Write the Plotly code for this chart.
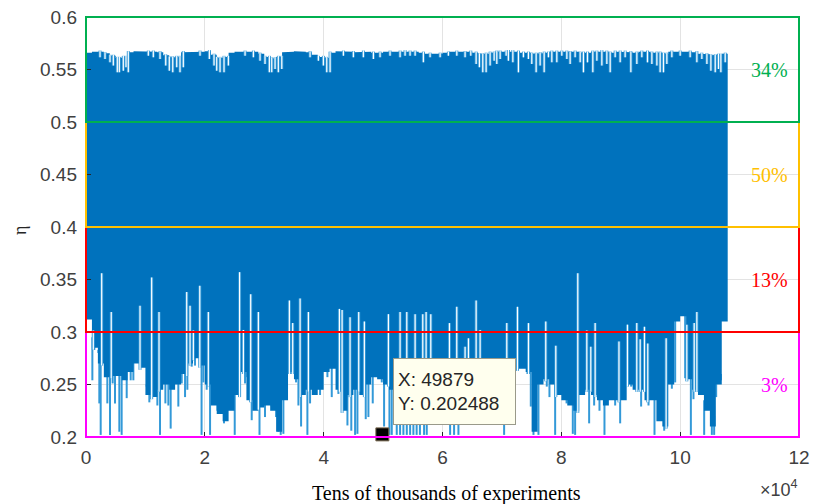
import plotly.graph_objects as go

# ---------------- data ----------------
col_width = 1000                      # experiments per column of the envelope
core_hi = [0.566, 0.567, 0.567, 0.5655, 0.563, 0.561, 0.562, 0.5665, 0.5675, 0.567,
           0.567, 0.567, 0.5665, 0.5635, 0.5615, 0.562, 0.5665, 0.567, 0.567, 0.567,
           0.5675, 0.564, 0.561, 0.562, 0.566, 0.567, 0.567, 0.5675, 0.567, 0.565,
           0.562, 0.5605, 0.562, 0.5665, 0.567, 0.5675, 0.567, 0.5665, 0.564, 0.562,
           0.561, 0.566, 0.5675, 0.567, 0.567, 0.5665, 0.567, 0.567, 0.566, 0.566,
           0.567, 0.567, 0.567, 0.5675, 0.567, 0.567, 0.566, 0.565, 0.5645, 0.565,
           0.566, 0.567, 0.567, 0.5665, 0.567, 0.566, 0.5645, 0.565, 0.566, 0.567,
           0.567, 0.5675, 0.567, 0.566, 0.566, 0.565, 0.5655, 0.566, 0.567, 0.567,
           0.567, 0.5665, 0.567, 0.566, 0.566, 0.567, 0.5675, 0.567, 0.566, 0.567,
           0.567, 0.5665, 0.566, 0.567, 0.567, 0.566, 0.566, 0.565, 0.567, 0.5675,
           0.567, 0.567, 0.5665, 0.565, 0.5645, 0.5635, 0.564, 0.565]
core_lo = [0.312, 0.285, 0.27, 0.257, 0.258, 0.258, 0.254, 0.262, 0.27, 0.266,
           0.24, 0.238, 0.245, 0.25, 0.245, 0.25, 0.26, 0.27, 0.275, 0.268,
           0.25, 0.23, 0.222, 0.215, 0.225, 0.24, 0.262, 0.235, 0.225, 0.228,
           0.23, 0.225, 0.205, 0.235, 0.262, 0.255, 0.24, 0.245, 0.24, 0.245,
           0.262, 0.265, 0.245, 0.225, 0.24, 0.245, 0.24, 0.25, 0.257, 0.255,
           0.25, 0.245, 0.25, 0.25, 0.25, 0.25, 0.25, 0.25, 0.25, 0.25,
           0.25, 0.25, 0.25, 0.25, 0.25, 0.25, 0.25, 0.25, 0.25, 0.25,
           0.25, 0.25, 0.265, 0.265, 0.262, 0.205, 0.25, 0.255, 0.25, 0.24,
           0.235, 0.23, 0.225, 0.24, 0.245, 0.24, 0.235, 0.23, 0.235, 0.235,
           0.235, 0.25, 0.245, 0.245, 0.235, 0.235, 0.215, 0.21, 0.25, 0.31,
           0.315, 0.255, 0.245, 0.24, 0.225, 0.21, 0.25, 0.31]

# deep minima reaching below the dense core (experiment index, eta)
spike_x = [1070, 1400, 2080, 2240, 2470, 3030, 3370, 3590, 4040, 4490, 4880, 5330, 5610, 6000,
           6400, 6850, 7520, 7970, 10210, 10660, 11620, 12010, 12460, 12910, 13360, 13860,
           14250, 15540, 16110, 16670, 17060, 17790, 18350, 19450, 19750, 20310, 20880, 21440,
           22110, 22560, 23230, 23680, 24240, 24690, 25030, 26770, 26880, 27330, 27890, 28450,
           29200, 29570, 30130, 30700, 31260, 31540, 31990, 32380, 32770, 33220, 33780, 35350,
           35750, 36200, 36590, 37260, 37710, 38270, 38720, 39060, 39390, 40630, 40960, 41360,
           41920, 42480, 43300, 43600, 44000, 44650, 44890, 45290, 45680, 46130, 46580, 47080,
           47530, 48260, 48650, 49210, 49780, 50170, 50620, 51070, 51460, 52300, 52860, 53420,
           53990, 54550, 55100, 55650, 56200, 56900, 57350, 61280, 61950, 62680, 70370, 74300,
           74860, 75310, 75760, 76150, 76710, 77110, 77550, 78000, 78960, 79410, 80080, 80500,
           80880, 81930, 82320, 82600, 83050, 83450, 83840, 84680, 85130, 85520, 85970, 86420,
           87260, 88500, 89060, 89450, 89900, 90350, 90740, 91300, 91750, 92140, 92590, 92990,
           93430, 94670, 95230, 95680, 97310, 97760, 98210, 98600, 99160, 100840, 101800,
           102240, 102690, 103090, 103650, 104040, 104490, 105330, 105720, 106060, 106460, 106850]
spike_y = [0.254, 0.283, 0.283, 0.232, 0.202, 0.267, 0.259, 0.232, 0.202, 0.251, 0.232, 0.259, 0.205, 0.202,
           0.260, 0.237, 0.254, 0.254, 0.248, 0.233, 0.254, 0.230, 0.202, 0.257, 0.232, 0.230,
           0.208, 0.229, 0.251, 0.238, 0.245, 0.267, 0.268, 0.202, 0.252, 0.245, 0.202, 0.232,
           0.225, 0.229, 0.213, 0.222, 0.251, 0.238, 0.202, 0.251, 0.257, 0.248, 0.216, 0.229,
           0.202, 0.257, 0.219, 0.245, 0.229, 0.230, 0.219, 0.205, 0.202, 0.203, 0.262, 0.252,
           0.230, 0.210, 0.251, 0.202, 0.232, 0.241, 0.257, 0.251, 0.240, 0.257, 0.268, 0.238,
           0.271, 0.241, 0.238, 0.248, 0.211, 0.206, 0.252, 0.202, 0.203, 0.252, 0.254, 0.217,
           0.219, 0.232, 0.259, 0.257, 0.252, 0.210, 0.254, 0.202, 0.202, 0.202, 0.202, 0.202,
           0.202, 0.202, 0.202, 0.202, 0.202, 0.202, 0.202, 0.202, 0.202, 0.202, 0.202, 0.260,
           0.229, 0.202, 0.216, 0.202, 0.256, 0.257, 0.248, 0.238, 0.202, 0.254, 0.245, 0.257,
           0.232, 0.203, 0.202, 0.252, 0.245, 0.259, 0.260, 0.213, 0.264, 0.230, 0.267, 0.225,
           0.202, 0.245, 0.230, 0.262, 0.213, 0.259, 0.245, 0.257, 0.248, 0.249, 0.248, 0.262,
           0.229, 0.230, 0.264, 0.202, 0.206, 0.222, 0.267, 0.246, 0.252, 0.256, 0.202,
           0.236, 0.257, 0.254, 0.252, 0.202, 0.257, 0.202, 0.202, 0.238, 0.260, 0.254]

# columns whose minimum stays high (white notches into the core)
notch_x = [1230, 2640, 4250, 9090, 11050, 12290, 16950, 17510, 18070, 19150, 20590, 25850, 26490,
           27720, 29010, 34230, 34790, 36030, 37430, 42650, 43100, 44440, 45900, 46850, 50900,
           52860, 53990, 55390, 56680, 57240, 58030, 61170, 62400, 63800, 64370, 65660, 66330,
           70820, 72620, 74470, 77380, 79070, 82770, 84290, 84960, 85690, 89700, 91130, 92700,
           93270, 93990, 94550, 97640, 101120, 102360, 102810]
notch_y = [0.3015, 0.356, 0.319, 0.325, 0.352, 0.319, 0.338, 0.325, 0.3015, 0.344, 0.319, 0.357, 0.302,
           0.336, 0.319, 0.330, 0.3085, 0.332, 0.319, 0.322, 0.321, 0.314, 0.319, 0.310, 0.317,
           0.319, 0.319, 0.317, 0.317, 0.319, 0.317, 0.3085, 0.324, 0.286, 0.294, 0.330, 0.302,
           0.3085, 0.324, 0.3085, 0.310, 0.287, 0.356, 0.3015, 0.286, 0.3085, 0.291, 0.307, 0.3085,
           0.293, 0.305, 0.289, 0.294, 0.307, 0.3085, 0.319]

# columns whose maximum is lower (dips in the top edge)
dip_x = [2360, 3200, 4040, 4600, 5270, 5610, 6280, 6730, 7120, 10490, 11330, 12460, 13420, 14020,
         14600, 15270, 15820, 16380, 19190, 20760, 21550, 22000, 22560, 23230, 23960, 26770, 28170,
         29290, 30130, 30860, 31260, 31820, 32370, 32950, 37710, 39110, 39950, 40520, 41080, 43320,
         45000, 46680, 48370, 49490, 51170, 52860, 53700, 54540, 55390, 56780, 57910, 59600, 60990,
         62410, 63800, 64760, 65660, 66210, 66780, 67340, 68010, 68690, 69140, 69700, 70710, 71090,
         71840, 72780, 73620, 74460, 75030, 75760, 76430, 77110, 77830, 78400, 79240, 80080, 80930,
         81480, 82320, 83170, 83720, 84400, 85300, 85980, 86820, 87660, 88220, 89060, 89900, 90740,
         91700, 92710, 93550, 94500, 95240, 96080, 96630, 97190, 97760, 98600, 100000, 101680,
         102810, 103650, 104500, 105170, 105900, 106450, 106850, 107580]
dip_y = [0.5616, 0.560, 0.5568, 0.5537, 0.5473, 0.5473, 0.5489, 0.5521, 0.5473, 0.5632, 0.5616, 0.560, 0.5537, 0.5489,
         0.5473, 0.5521, 0.5473, 0.5521, 0.5632, 0.560, 0.5537, 0.5489, 0.5473, 0.5473, 0.5537, 0.5632, 0.5616,
         0.5584, 0.5553, 0.5473, 0.5473, 0.5505, 0.5473, 0.5505, 0.5616, 0.5584, 0.5537, 0.5473, 0.5473, 0.5632,
         0.5616, 0.5616, 0.560, 0.5616, 0.5632, 0.5616, 0.5632, 0.5632, 0.5632, 0.5568, 0.5616, 0.5616, 0.5632,
         0.5632, 0.5616, 0.5632, 0.5553, 0.5521, 0.5473, 0.5473, 0.5537, 0.5584, 0.5553, 0.560, 0.5632, 0.5584,
         0.5568, 0.5473, 0.5616, 0.560, 0.5553, 0.5473, 0.5537, 0.5473, 0.5616, 0.5568, 0.5568, 0.5632, 0.560,
         0.5553, 0.5616, 0.5568, 0.5473, 0.5568, 0.5473, 0.5584, 0.5537, 0.5553, 0.5473, 0.5616, 0.5568, 0.5616,
         0.5473, 0.5553, 0.5616, 0.5568, 0.5553, 0.5537, 0.5473, 0.5473, 0.5553, 0.5616, 0.5632, 0.5616,
         0.5568, 0.560, 0.5553, 0.5489, 0.5473, 0.5505, 0.5473, 0.5568]

tip_x = 49879
tip_y = 0.202488

band_lo = [0.2, 0.3, 0.4, 0.5]
band_hi = [0.3, 0.4, 0.5, 0.6]
band_labels = ["3%", "13%", "50%", "34%"]
band_colors = ["#FF00FF", "#FF0000", "#FFC000", "#00B050"]

x_range = [0, 120000]
y_range = [0.2, 0.6]
x_tickvals = [0, 20000, 40000, 60000, 80000, 100000, 120000]
x_ticktext = ["0", "2", "4", "6", "8", "10", "12"]
y_tickvals = [0.2, 0.25, 0.3, 0.35, 0.4, 0.45, 0.5, 0.55, 0.6]
y_ticktext = ["0.2", "0.25", "0.3", "0.35", "0.4", "0.45", "0.5", "0.55", "0.6"]

# ---------------- build figure ----------------
CORE = "#0072BD"
LIGHT = "#3399D8"
n = len(core_hi)

# spikes (drawn first, the core hides their upper ends)
sx, sy = [], []
for x, y in zip(spike_x, spike_y):
    c = min(int(x // col_width), n - 1)
    sx += [x, x, None]
    sy += [y, core_lo[c] + 0.01, None]

# core polygon (step envelope)
px, py = [], []
for i in range(n):
    px += [i * col_width, (i + 1) * col_width]
    py += [core_hi[i], core_hi[i]]
for i in range(n - 1, -1, -1):
    px += [(i + 1) * col_width, i * col_width]
    py += [core_lo[i], core_lo[i]]

# notches and dips
nx, ny = [], []
for x, y in zip(notch_x, notch_y):
    c = min(int(x // col_width), n - 1)
    nx += [x, x, None]
    ny += [core_lo[c] - 0.002, y, None]
for x, y in zip(dip_x, dip_y):
    c = min(int(x // col_width), n - 1)
    nx += [x, x, None]
    ny += [core_hi[c] + 0.001, y, None]

fig = go.Figure()
fig.add_trace(go.Scatter(x=sx, y=sy, mode="lines", line=dict(color=LIGHT, width=2),
                         hoverinfo="skip", showlegend=False))
fig.add_trace(go.Scatter(x=px, y=py, mode="lines", fill="toself", fillcolor=CORE,
                         line=dict(width=0, color=CORE), hoverinfo="skip", showlegend=False))
fig.add_trace(go.Scatter(x=nx, y=ny, mode="lines", line=dict(color=LIGHT, width=3),
                         hoverinfo="skip", showlegend=False))
fig.add_trace(go.Scatter(x=nx, y=ny, mode="lines", line=dict(color="white", width=1.2),
                         hoverinfo="skip", showlegend=False))


def y_frac(v):
    return (v - y_range[0]) / (y_range[1] - y_range[0])


# colored bands (paper-referenced so the border lines are not clipped at the edges)
for lo, hi, col in zip(band_lo, band_hi, band_colors):
    fig.add_shape(type="rect", xref="paper", yref="paper", x0=0, x1=1,
                  y0=y_frac(lo), y1=y_frac(hi),
                  line=dict(color=col, width=2), fillcolor="rgba(0,0,0,0)", layer="above")
for lo, hi, lab, col in zip(band_lo, band_hi, band_labels, band_colors):
    fig.add_annotation(x=118500, y=(lo + hi) / 2, xref="x", yref="y", text=lab, showarrow=False,
                       xanchor="right", yanchor="middle",
                       font=dict(family="Liberation Serif, Times New Roman, serif", size=20, color=col))

# data tip marker
fig.add_trace(go.Scatter(x=[tip_x], y=[tip_y], mode="markers",
                         marker=dict(symbol="square", size=13, color="black",
                                     line=dict(color="#7a6a50", width=1)),
                         cliponaxis=False, hoverinfo="skip", showlegend=False))
fig.add_annotation(x=51700, y=0.275, xref="x", yref="y", xanchor="left", yanchor="top",
                   text=f"X: {tip_x}<br>Y: {tip_y}", showarrow=False, align="left",
                   bgcolor="#FFFFEE", bordercolor="#9a9a8a", borderwidth=1, borderpad=4,
                   width=113, height=57,
                   font=dict(family="Liberation Sans, Arial, sans-serif", size=19, color="#262626"))

# axis labels
fig.add_annotation(x=0.505, y=-0.135, xref="paper", yref="paper", text="Tens of thousands of experiments",
                   showarrow=False, xanchor="center", yanchor="middle",
                   font=dict(family="Liberation Serif, Times New Roman, serif", size=20, color="black"))
fig.add_annotation(x=-0.0926, y=0.493, xref="paper", yref="paper", text="η", textangle=-90,
                   showarrow=False, xanchor="center", yanchor="middle",
                   font=dict(family="Liberation Serif, Times New Roman, serif", size=18, color="#262626"))
fig.add_annotation(x=1.0014, y=-0.122, xref="paper", yref="paper", text="×10<sup>4</sup>",
                   showarrow=False, xanchor="right", yanchor="middle",
                   font=dict(family="Liberation Sans, Arial, sans-serif", size=18, color="#404040"))

axis_font = dict(family="Liberation Sans, Arial, sans-serif", size=19, color="#404040")
fig.update_layout(
    width=813, height=504,
    margin=dict(l=86, r=14, t=17, b=67, autoexpand=False),
    paper_bgcolor="white", plot_bgcolor="white",
    showlegend=False,
    xaxis=dict(range=x_range, tickvals=x_tickvals, ticktext=x_ticktext, showgrid=True,
               gridcolor="#e3e3e3", gridwidth=1, zeroline=False, ticks="inside", ticklen=5,
               tickcolor="#262626", showline=False,
               tickfont=axis_font, ticklabelstandoff=7, automargin=False),
    yaxis=dict(range=y_range, tickvals=y_tickvals, ticktext=y_ticktext, showgrid=True,
               gridcolor="#e3e3e3", gridwidth=1, zeroline=False, ticks="inside", ticklen=5,
               tickcolor="#262626", showline=False,
               tickfont=axis_font, ticklabelstandoff=8, automargin=False),
)

fig.write_html("out.html", config={"displayModeBar": False},
               post_script="document.body.style.margin='0';document.body.style.padding='0';")
